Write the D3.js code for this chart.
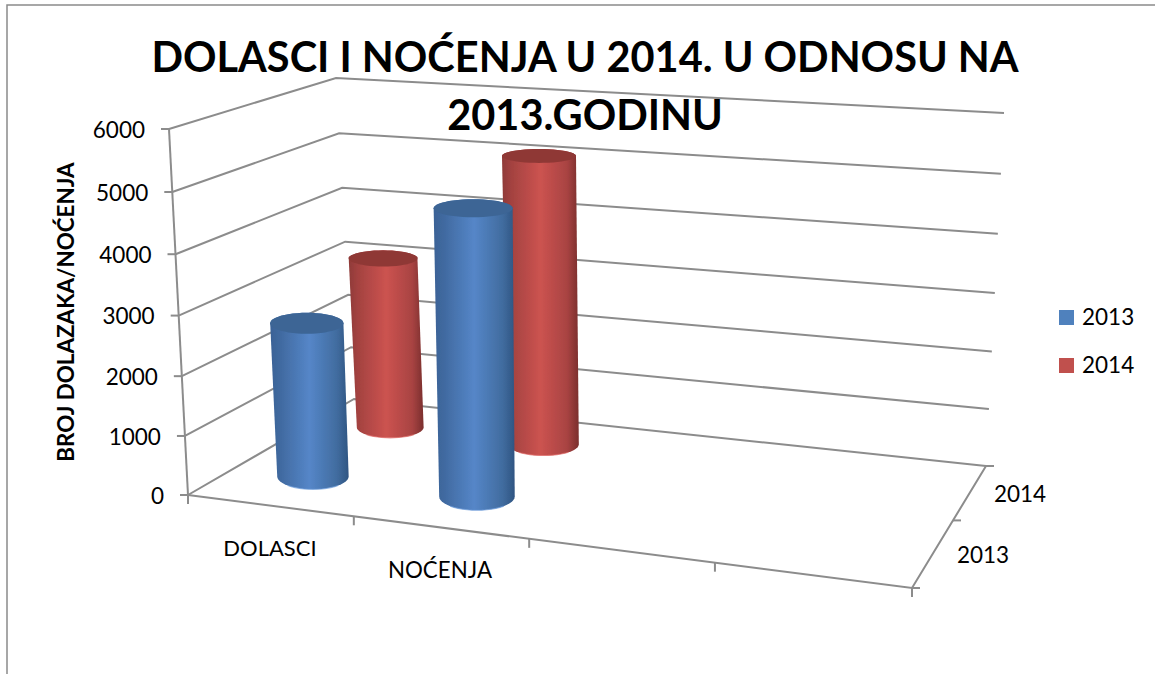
<!DOCTYPE html>
<html>
<head>
<meta charset="utf-8">
<script src="https://cdn.jsdelivr.net/npm/d3@7"></script>
<style>
  html, body { margin: 0; background: #fff; }
  text { font-family: Lato, "Open Sans", sans-serif; fill: #000; }
</style>
</head>
<body>
<div id="chart"></div>
<script>
const categories = ["DOLASCI", "NOĆENJA", "c3", "c4"]
const seriesNames = ["2013", "2014"]
const values2013 = [2630, 4770]
const values2014 = [3090, 5090]
const titleLines = ["DOLASCI I NOĆENJA U 2014. U ODNOSU NA", "2013.GODINU"]
const yTitle = "BROJ DOLAZAKA/NOĆENJA"

const width = 1155, height = 674

// corners of the 3d box as they land on screen
const box = {
  fl0: [188, 495], fl1: [169, 129],
  bl0: [354, 399], bl1: [336, 78],
  br0: [986, 466], br1: [1004, 113],
  fr0: [912, 588], fr1: [935, 184]
}

const x = d3.scaleBand().domain(categories).range([0, 1])
const z = d3.scaleBand().domain(seriesNames).range([0, 1])
const y = d3.scaleLinear().domain([0, 6000]).range([0, 1])

// perspective makes the near end of each edge spread out
const warp = (t, k) => t / (t + k * (1 - t))
const mix = (a, b, t) => a + (b - a) * t

function project(u, value, w) {
  const U = warp(u, 1.122), W = warp(w, 0.805), V = warp(y(value), 1.04)
  const out = [0, 1].map(i => {
    const bottom = mix(mix(box.fl0[i], box.fr0[i], U), mix(box.bl0[i], box.br0[i], U), W)
    const top = mix(mix(box.fl1[i], box.fr1[i], U), mix(box.bl1[i], box.br1[i], U), W)
    return mix(bottom, top, V)
  })
  return out
}

const svg = d3.select("#chart").append("svg")
  .attr("width", width).attr("height", height)
  .style("display", "block")

const defs = svg.append("defs")
defs.append("filter").attr("id", "soft")
  .append("feGaussianBlur").attr("stdDeviation", 0.45)

function addGradient(id, stops) {
  const g = defs.append("linearGradient").attr("id", id)
  stops.forEach(s => g.append("stop").attr("offset", s[0]).attr("stop-color", s[1]))
}
addGradient("body2013", [[0, "#3a6296"], [0.12, "#40699f"], [0.5, "#5586c8"], [0.85, "#416c9f"], [1, "#2f5582"]])
addGradient("body2014", [[0, "#8f3a38"], [0.12, "#a34240"], [0.5, "#cc5350"], [0.85, "#a84342"], [1, "#7a2e2d"]])
const topColor = { "2013": "#3c6595", "2014": "#8f3836" }
const rimColor = { "2013": "#6f9edb", "2014": "#e06a66" }

const grid = "#8c8c8c"
const line = d3.line()

// outer frame
svg.append("path")
  .attr("d", line([[7, 674], [7, 5], [1155, 5]]))
  .attr("fill", "none").attr("stroke", "#8a8a8a").attr("stroke-width", 1.5)

const walls = svg.append("g").attr("fill", "none").attr("stroke", grid)
  .attr("stroke-width", 2).attr("filter", "url(#soft)")

// gridlines across side and back wall
y.ticks(6).forEach(t => {
  walls.append("path").attr("d", line([project(0, t, 0), project(0, t, 1), project(1, t, 1)]))
  const p = project(0, t, 0)
  walls.append("path").attr("d", line([[p[0] - 8, p[1]], p]))
})

// axis lines
walls.append("path").attr("d", line([project(0, 0, 0), project(0, 6000, 0)]))
walls.append("path").attr("d", line([project(0, 0, 0), project(1, 0, 0), project(1, 0, 1)]))

// category ticks on front edge
d3.range(0, 5).forEach(i => {
  const p = project(i / 4, 0, 0)
  walls.append("path").attr("d", line([p, [p[0], p[1] + 9]]))
})
// series ticks on the right edge
d3.range(0, 3).forEach(i => {
  const p = project(1, 0, i / 2)
  walls.append("path").attr("d", line([p, [p[0] + 8, p[1]]]))
})

// y tick labels
svg.append("g").selectAll("text").data(y.ticks(6)).join("text")
  .attr("x", d => project(0, d, 0)[0] - 24)
  .attr("y", d => project(0, d, 0)[1] + 3)
  .attr("text-anchor", "end").attr("dominant-baseline", "middle")
  .attr("font-size", 22.5)
  .text(d3.format("d"))

// cylinders, far series first
const radiusU = 0.056, radiusW = 0.12
const bars = []
seriesNames.forEach((s, si) => {
  const vals = si == 0 ? values2013 : values2014
  vals.forEach((v, ci) => bars.push({ s, v, c: categories[ci] }))
})
bars.sort((a, b) => d3.descending(z(a.s), z(b.s)))

// the caps stay level on screen, so take their size from the projection
function ring(d, value) {
  const cu = x(d.c) + x.bandwidth() * 0.485, cw = z(d.s) + z.bandwidth() / 2
  const c = project(cu, value, cw)
  const rx = (project(cu + radiusU, value, cw)[0] - project(cu - radiusU, value, cw)[0]) / 2
  const ry = (project(cu, value, cw - radiusW)[1] - project(cu, value, cw + radiusW)[1]) / 2
  return d3.range(0, 48).map(i => {
    const a = i / 48 * Math.PI * 2
    return [c[0] + rx * Math.cos(a), c[1] + ry * Math.sin(a)]
  })
}

const barG = svg.append("g").attr("filter", "url(#soft)")
bars.forEach(d => {
  const bottom = ring(d, 0), top = ring(d, d.v)
  const hull = d3.polygonHull(bottom.concat(top))
  barG.append("path").attr("d", line(hull) + "Z")
    .attr("fill", "url(#body" + d.s + ")")
  // the light rim along the front of the base
  const rim = bottom.filter((p, i) => i > 5 && i < 19)
  barG.append("path").attr("d", line(rim)).attr("fill", "none")
    .attr("stroke", rimColor[d.s]).attr("stroke-width", 1.2).attr("stroke-opacity", 0.7)
  barG.append("path").attr("d", line(top) + "Z").attr("fill", topColor[d.s])
})

// category labels
svg.append("text").attr("x", 270).attr("y", 550).attr("text-anchor", "middle")
  .attr("dominant-baseline", "middle").attr("font-size", 22).text(categories[0])
svg.append("text").attr("x", 440).attr("y", 572).attr("text-anchor", "middle")
  .attr("dominant-baseline", "middle").attr("font-size", 22.3).text(categories[1])

// series labels on the depth axis
svg.append("text").attr("x", 983).attr("y", 557).attr("text-anchor", "middle")
  .attr("dominant-baseline", "middle").attr("font-size", 22.5).text(seriesNames[0])
svg.append("text").attr("x", 1020).attr("y", 496).attr("text-anchor", "middle")
  .attr("dominant-baseline", "middle").attr("font-size", 22.5).text(seriesNames[1])

// axis title
svg.append("text")
  .attr("transform", "translate(68,312) rotate(-90)")
  .attr("text-anchor", "middle").attr("dominant-baseline", "middle")
  .attr("font-size", 22.4).attr("font-weight", 700).text(yTitle)

// chart title
svg.selectAll(".title").data(titleLines).join("text")
  .attr("class", "title")
  .attr("x", 585).attr("y", (d, i) => 61 + i * 58)
  .attr("text-anchor", "middle").attr("dominant-baseline", "middle")
  .attr("font-size", 41.5).attr("font-weight", 700).text(d => d)

// legend
const legend = svg.append("g").selectAll("g").data(seriesNames).join("g")
  .attr("transform", (d, i) => "translate(1059," + (310 + i * 48) + ")")
legend.append("rect").attr("width", 15).attr("height", 15)
  .attr("fill", d => d == "2013" ? "#4f81bd" : "#c0504d")
legend.append("text").attr("x", 23).attr("y", 9)
  .attr("dominant-baseline", "middle").attr("font-size", 22.5).text(d => d)
</script>
</body>
</html>
